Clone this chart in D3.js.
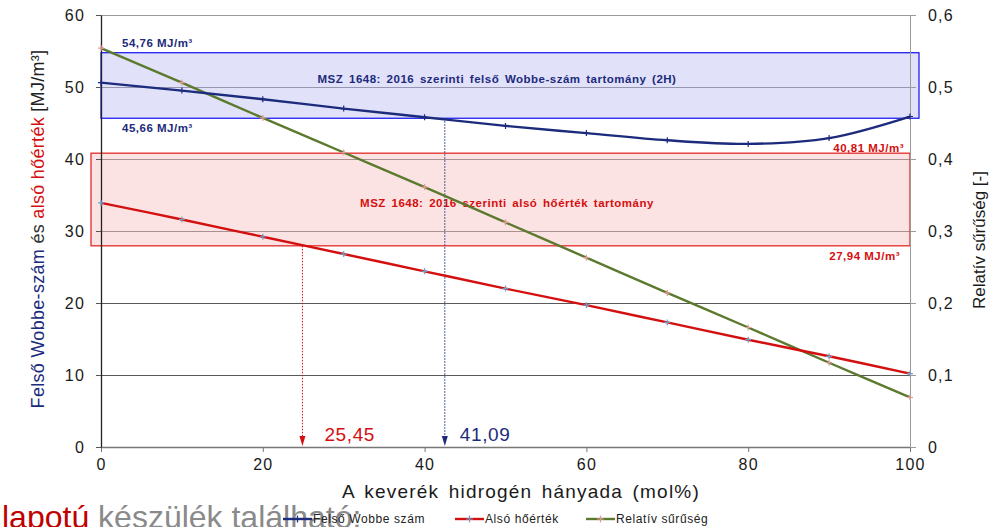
<!DOCTYPE html>
<html>
<head>
<meta charset="utf-8">
<script src="https://cdn.jsdelivr.net/npm/d3@7"></script>
<style>
  body { margin: 0; background: #fff; }
  svg { display: block; font-family: "Liberation Sans", Arial, sans-serif; }
</style>
</head>
<body>
<div id="chart"></div>
<script>
// data
let hShare = [0, 10, 20, 30, 40, 50, 60, 70, 80, 90, 100];
let wobbe = [50.6, 49.5, 48.3, 47.0, 45.8, 44.6, 43.6, 42.6, 42.1, 42.9, 45.9];
let lowerHV = [33.9, 31.6, 29.2, 26.8, 24.4, 22.0, 19.7, 17.3, 14.9, 12.6, 10.2];
let relDensity = [0.554, 0.506, 0.457, 0.409, 0.361, 0.312, 0.263, 0.214, 0.166, 0.117, 0.069];

let wobbeBand = [45.66, 54.76];
let lhvBand = [27.94, 40.81];
let wobbeBandLabels = ['45,66 MJ/m³', '54,76 MJ/m³'];
let lhvBandLabels = ['27,94 MJ/m³', '40,81 MJ/m³'];

let crossX = [24.9, 42.5];
let crossFrom = [27.94, 45.66];
let crossLabels = ['25,45', '41,09'];

let xTicks = [0, 20, 40, 60, 80, 100];
let yTicks = [0, 10, 20, 30, 40, 50, 60];
let y2Ticks = [0, 0.1, 0.2, 0.3, 0.4, 0.5, 0.6];

let legendNames = ['Felső Wobbe szám', 'Alsó hőérték', 'Relatív sűrűség'];

var navy = '#1c2b7c';
var red = '#d40f0f';
var olive = '#5b7a2e';

var W = 989, H = 527;
var svg = d3.select('#chart').append('svg')
  .attr('width', W)
  .attr('height', H);

var x = d3.scaleLinear().domain([0, 100]).range([101, 910]);
var y = d3.scaleLinear().domain([0, 60]).range([447, 15]);
var y2 = d3.scaleLinear().domain([0, 0.6]).range([447, 15]);

// slide text peeking in at the bottom
var slide = svg.append('text')
  .attr('x', 2)
  .attr('y', 528)
  .style('font-size', '32px');
slide.append('tspan').attr('fill', '#c00000').text('lapotú');
slide.append('tspan').attr('fill', '#8a8a8a').text(' készülék található:');

// gridlines
svg.append('g')
  .selectAll('line')
  .data(yTicks.slice(1))
  .join('line')
  .attr('x1', x(0))
  .attr('x2', x(100))
  .attr('y1', d => y(d) + 0.5)
  .attr('y2', d => y(d) + 0.5)
  .attr('stroke', d => d === 60 ? '#9a9a9a' : '#5a5a5a')
  .attr('stroke-width', 1);

// plot frame right
svg.append('line')
  .attr('x1', x(100) + 0.5).attr('x2', x(100) + 0.5)
  .attr('y1', y(60)).attr('y2', y(0))
  .attr('stroke', '#9a9a9a');

// bands
svg.append('rect')
  .attr('x', x(0))
  .attr('y', y(wobbeBand[1]))
  .attr('width', x(100) + 9 - x(0))
  .attr('height', y(wobbeBand[0]) - y(wobbeBand[1]))
  .attr('fill', '#c8c8f4')
  .attr('fill-opacity', 0.55)
  .attr('stroke', '#1010f0')
  .attr('stroke-width', 1.2);

svg.append('rect')
  .attr('x', x(0) - 10)
  .attr('y', y(lhvBand[1]))
  .attr('width', x(100) - x(0) + 10)
  .attr('height', y(lhvBand[0]) - y(lhvBand[1]))
  .attr('fill', '#f9c8c8')
  .attr('fill-opacity', 0.5)
  .attr('stroke', '#e01818')
  .attr('stroke-width', 1.2);

// band captions
var bold = (sel) => sel.style('font-weight', 'bold').style('font-size', '11.5px').style('letter-spacing', '0.5px');

svg.append('text').call(bold)
  .attr('x', 497).attr('y', 83)
  .attr('text-anchor', 'middle')
  .attr('fill', navy)
  .style('word-spacing', '2px')
  .text('MSZ 1648: 2016 szerinti felső Wobbe-szám tartomány (2H)');

svg.append('text').call(bold)
  .attr('x', 507).attr('y', 207)
  .attr('text-anchor', 'middle')
  .attr('fill', red)
  .style('word-spacing', '2px')
  .text('MSZ 1648: 2016 szerinti alsó hőérték tartomány');

svg.append('text').call(bold)
  .attr('x', 122).attr('y', y(wobbeBand[1]) - 6)
  .attr('fill', navy)
  .text(wobbeBandLabels[1]);
svg.append('text').call(bold)
  .attr('x', 122).attr('y', y(wobbeBand[0]) + 14)
  .attr('fill', navy)
  .text(wobbeBandLabels[0]);
svg.append('text').call(bold)
  .attr('x', 904).attr('y', y(lhvBand[1]) - 1)
  .attr('text-anchor', 'end')
  .attr('fill', red)
  .text(lhvBandLabels[1]);
svg.append('text').call(bold)
  .attr('x', 900).attr('y', y(lhvBand[0]) + 14)
  .attr('text-anchor', 'end')
  .attr('fill', red)
  .text(lhvBandLabels[0]);

// axes
var fmt2 = d => d === 0 ? '0' : d3.format('.1f')(d).replace('.', ',');

var gx = svg.append('g')
  .attr('transform', `translate(0,${y(0)})`)
  .call(d3.axisBottom(x).tickValues(xTicks).tickSize(5).tickPadding(7).tickSizeOuter(0));
var gy = svg.append('g')
  .attr('transform', `translate(${x(0)},0)`)
  .call(d3.axisLeft(y).tickValues(yTicks).tickSize(5).tickPadding(11).tickSizeOuter(0));
var gy2 = svg.append('g')
  .attr('transform', `translate(${x(100)},0)`)
  .call(d3.axisRight(y2).tickValues(y2Ticks).tickFormat(fmt2).tickSize(6).tickPadding(12).tickSizeOuter(0));

[gx, gy, gy2].forEach(g => {
  g.attr('font-family', null).attr('font-size', null);
  g.selectAll('text').style('font-size', '16px').style('letter-spacing', '1.2px').attr('fill', '#1a1a1a');
});
gx.select('.domain').attr('stroke', '#777').attr('stroke-width', 1.5);
gx.selectAll('.tick line').attr('stroke', '#777');
gy.select('.domain').attr('stroke', '#222').attr('stroke-width', 1.3);
gy.selectAll('.tick line').attr('stroke', '#555');
gy2.select('.domain').attr('stroke', '#9a9a9a');
gy2.selectAll('.tick line').attr('stroke', '#9a9a9a');

// dotted drop lines to the x axis
var crossColors = [red, navy];
crossX.forEach((cx, i) => {
  svg.append('line')
    .attr('x1', x(cx)).attr('x2', x(cx))
    .attr('y1', y(crossFrom[i]))
    .attr('y2', y(0) - 9)
    .attr('stroke', crossColors[i])
    .attr('stroke-width', 1)
    .attr('stroke-dasharray', '1.5,1.5');
  svg.append('path')
    .attr('d', `M${x(cx) - 3},${y(0) - 11}L${x(cx) + 3},${y(0) - 11}L${x(cx)},${y(0) - 1}Z`)
    .attr('fill', crossColors[i]);
  svg.append('text')
    .attr('x', x(cx) + (i === 0 ? 22 : 15))
    .attr('y', y(0) - 6)
    .attr('fill', crossColors[i])
    .style('font-size', '19px')
    .style('letter-spacing', '0.6px')
    .text(crossLabels[i]);
});

// series
var series = [
  {name: legendNames[0], vals: wobbe, sc: y, color: navy, mark: navy},
  {name: legendNames[1], vals: lowerHV, sc: y, color: red, mark: '#6f9fc8'},
  {name: legendNames[2], vals: relDensity, sc: y2, color: olive, mark: '#e59a9a'}
];

series.slice().reverse().forEach(s => {
  let line = d3.line()
    .x((d, i) => x(hShare[i]))
    .y(d => s.sc(d))
    .curve(d3.curveCardinal.tension(0));
  svg.append('path')
    .datum(s.vals)
    .attr('d', line)
    .attr('fill', 'none')
    .attr('stroke', s.color)
    .attr('stroke-width', 2.4);
  svg.append('g')
    .selectAll('path')
    .data(s.vals)
    .join('path')
    .attr('d', (d, i) => {
      let px = x(hShare[i]), py = s.sc(d);
      return `M${px - 3},${py}H${px + 3}M${px},${py - 3}V${py + 3}`;
    })
    .attr('stroke', s.mark)
    .attr('stroke-width', 1.2);
});

// axis titles
var lt = svg.append('text')
  .attr('transform', 'translate(38,229) rotate(-90)')
  .attr('text-anchor', 'middle')
  .attr('dominant-baseline', 'central')
  .style('font-size', '18px')
  .style('letter-spacing', '0.3px');
lt.append('tspan').attr('fill', navy).text('Felső Wobbe-szám');
lt.append('tspan').attr('fill', '#333').text(' és ');
lt.append('tspan').attr('fill', red).text('alsó hőérték');
lt.append('tspan').attr('fill', '#222').text(' [MJ/m³]');

svg.append('text')
  .attr('transform', 'translate(979,240) rotate(-90)')
  .attr('text-anchor', 'middle')
  .attr('dominant-baseline', 'central')
  .attr('fill', '#1a1a1a')
  .style('font-size', '17px')
  .text('Relatív sűrűség [-]');

svg.append('text')
  .attr('x', 521).attr('y', 498)
  .attr('text-anchor', 'middle')
  .attr('fill', '#1a1a1a')
  .style('font-size', '19px')
  .style('letter-spacing', '1.2px')
  .style('word-spacing', '3px')
  .text('A keverék hidrogén hányada (mol%)');

// legend
var legendX = [283, 455, 586];
var lg = svg.append('g')
  .selectAll('g')
  .data(series)
  .join('g')
  .attr('transform', (d, i) => `translate(${legendX[i]},519)`);
lg.append('line')
  .attr('x1', 0).attr('x2', 29)
  .attr('stroke', d => d.color)
  .attr('stroke-width', 2.4);
lg.append('path')
  .attr('d', 'M11,0H18M14.5,-3.5V3.5')
  .attr('stroke', d => d.mark)
  .attr('stroke-width', 1.2);
lg.append('text')
  .attr('x', 30)
  .attr('dy', '0.35em')
  .attr('fill', '#222')
  .style('font-size', '12px')
  .style('letter-spacing', '0.6px')
  .text(d => d.name);
</script>
</body>
</html>
